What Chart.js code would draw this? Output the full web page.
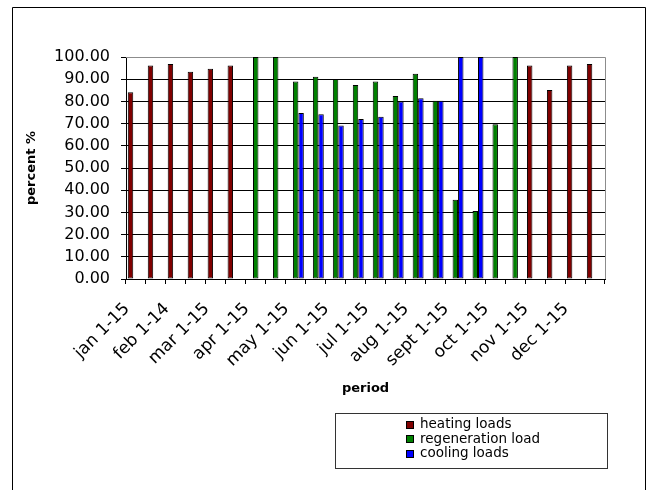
<!DOCTYPE html>
<html><head><meta charset="utf-8">
<script src="https://cdn.jsdelivr.net/npm/chart.js@4/dist/chart.umd.min.js"></script>
<style>html,body{margin:0;padding:0;background:#fff}#wrap{position:relative;width:652px;height:490px}</style>
</head><body><div id="wrap"><canvas id="c" width="652" height="490"></canvas></div>
<script>
const categories = ["jan 1-15","jan 16-31","feb 1-14","feb 15-28","mar 1-15","mar 16-31","apr 1-15","apr 16-30","may 1-15","may 16-31","jun 1-15","jun 16-30","jul 1-15","jul 16-31","aug 1-15","aug 16-31","sept 1-15","sept 16-30","oct 1-15","oct 16-31","nov 1-15","nov 16-30","dec 1-15","dec 16-31"];
const heatingLoads = [84.1, 96.2, 96.8, 93.4, 94.7, 96.2, null, null, null, null, null, null, null, null, null, null, null, null, null, null, 96.2, 85.1, 96.2, 96.8];
const regenerationLoad = [null, null, null, null, null, null, 100, 100, 89.0, 91.1, 90.1, 87.4, 89.0, 82.4, 92.5, 80.3, 35.7, 30.6, 69.7, 100, null, null, null, null];
const coolingLoads = [null, null, null, null, null, null, null, null, 74.8, 74.2, 69.1, 72.1, 73.1, 79.9, 81.4, 80.3, 100, 100, null, null, null, null, null, null];
const seriesNames = ["heating loads", "regeneration load", "cooling loads"];
const yTickValues = [0, 10, 20, 30, 40, 50, 60, 70, 80, 90, 100];

const FONT = "'DejaVu Sans', sans-serif";

const framePlugin = {
  id: 'frame',
  beforeDraw(chart) {
    const ctx = chart.ctx;
    ctx.save();
    ctx.fillStyle = '#fff';
    ctx.fillRect(0, 0, chart.width, chart.height);
    ctx.strokeStyle = '#000';
    ctx.lineWidth = 1;
    ctx.beginPath();
    ctx.moveTo(12.5, 490);
    ctx.lineTo(12.5, 7.5);
    ctx.lineTo(645.5, 7.5);
    ctx.lineTo(645.5, 490);
    ctx.stroke();
    ctx.restore();
  },
  beforeDatasetsDraw(chart) {
    const a = chart.chartArea, ctx = chart.ctx;
    ctx.save();
    ctx.strokeStyle = '#8c8c8c';
    ctx.lineWidth = 1;
    ctx.beginPath();
    ctx.moveTo(a.left, Math.round(a.top) + 0.5);
    ctx.lineTo(Math.round(a.right) + 0.5, Math.round(a.top) + 0.5);
    ctx.lineTo(Math.round(a.right) + 0.5, a.bottom);
    ctx.stroke();
    ctx.restore();
  },
  afterDraw(chart) {
    const ctx = chart.ctx;
    ctx.save();
    ctx.strokeStyle = '#333';
    ctx.lineWidth = 1;
    ctx.strokeRect(335.5, 413.5, 272, 55);
    ctx.font = "13.5px " + FONT;
    ctx.textBaseline = 'middle';
    ctx.textAlign = 'left';
    chart.data.datasets.forEach((ds, i) => {
      const cy = 424.5 + i * 14.6;
      ctx.fillStyle = ds.backgroundColor;
      ctx.fillRect(406.5, Math.round(cy - 4) + 0.5, 7, 7);
      ctx.strokeStyle = '#000';
      ctx.strokeRect(406.5, Math.round(cy - 4) + 0.5, 7, 7);
      ctx.fillStyle = '#000';
      ctx.fillText(ds.label, 420, cy);
    });
    ctx.restore();
  }
};

const colors = ['#800000', '#008000', '#0000ff'];
const seriesData = [heatingLoads, regenerationLoad, coolingLoads];

new Chart(document.getElementById('c'), {
  type: 'bar',
  data: {
    labels: categories,
    datasets: seriesData.map((d, i) => ({
      label: seriesNames[i],
      data: d,
      backgroundColor: colors[i],
      borderColor: '#000',
      borderWidth: 1,
      borderSkipped: false,
      categoryPercentage: 0.82,
      barPercentage: 1.0
    }))
  },
  options: {
    responsive: false,
    devicePixelRatio: 1,
    animation: false,
    layout: { padding: { left: 20, top: 57, right: 47, bottom: 92 } },
    plugins: { legend: { display: false }, tooltip: { enabled: false } },
    scales: {
      x: {
        offset: true,
        grid: { drawOnChartArea: false, offset: true, tickLength: 5, color: '#000' },
        border: { color: '#000', width: 1 },
        ticks: {
          autoSkip: false, maxRotation: 45, minRotation: 45, color: '#000',
          font: { family: FONT, size: 17 }, padding: 15, labelOffset: -9,
          callback: function (v, i) { return i % 2 === 0 ? categories[i] : ''; }
        },
        title: { display: true, text: 'period', color: '#000', font: { family: FONT, size: 13, weight: 'bold' }, padding: { top: 0, bottom: 2 } },
        afterFit: (s) => { s.height = 119; }
      },
      y: {
        min: 0, max: 100,
        afterBuildTicks: (s) => { s.ticks = yTickValues.map(v => ({ value: v })); },
        grid: { color: (c) => (c.tick && c.tick.value === 100 ? '#8c8c8c' : '#000'), tickLength: 5, tickColor: '#000' },
        border: { color: '#000', width: 1 },
        ticks: { color: '#000', font: { family: FONT, size: 16 }, padding: 11, callback: (v) => Number(v).toFixed(2) },
        title: { display: true, text: 'percent %', color: '#000', font: { family: FONT, size: 13, weight: 'bold' }, padding: { top: 4, bottom: 0 } },
        afterFit: (s) => { s.width = 106; }
      }
    }
  },
  plugins: [framePlugin]
});
</script>
</body></html>
